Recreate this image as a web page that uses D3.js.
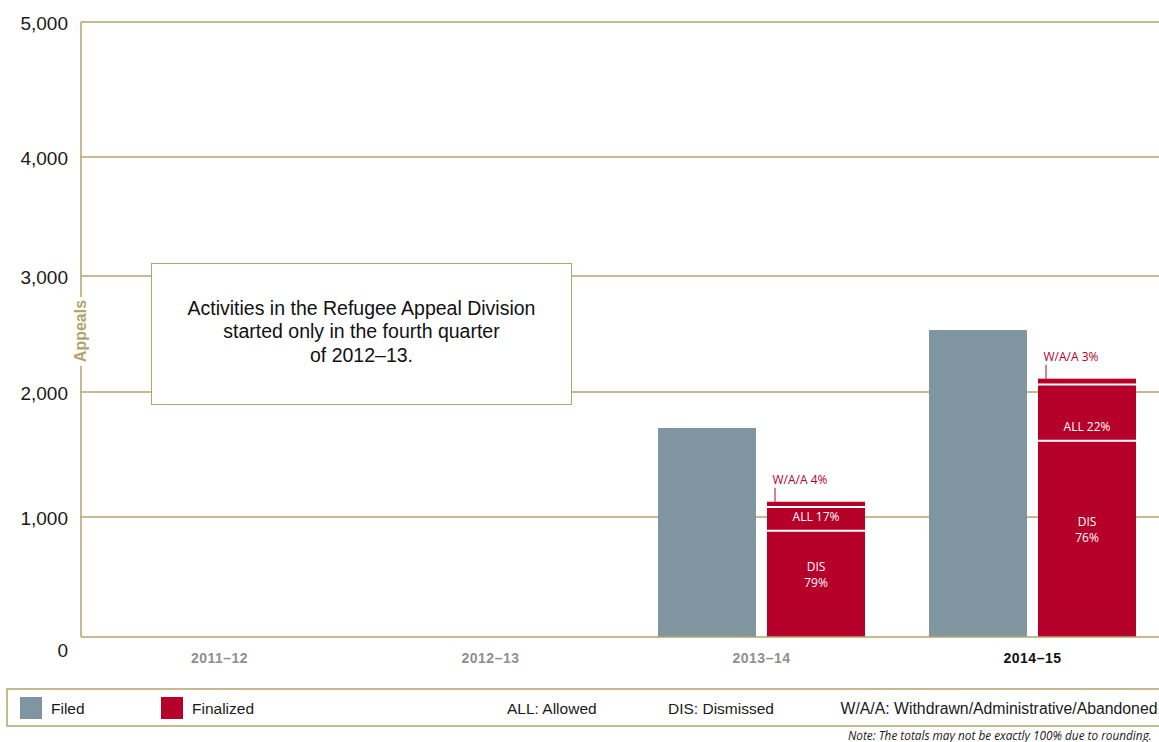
<!DOCTYPE html>
<html>
<head>
<meta charset="utf-8">
<script src="https://cdn.jsdelivr.net/npm/d3@7"></script>
<style>
  body { margin: 0; background: #fff; }
  svg { display: block; }
</style>
</head>
<body>
<svg id="chart" width="1159" height="742"></svg>
<script>
/* global d3 */

// data
const years = ['2011–12', '2012–13', '2013–14', '2014–15']
const filed = [0, 0, 1712, 2534]
const dismissed = [0, 0, 885, 1610]
const allowed = [0, 0, 195, 455]
const withdrawn = [0, 0, 42, 50]
const disPct = ['', '', '79%', '76%']
const allPct = ['', '', '17%', '22%']
const waaPct = ['', '', '4%', '3%']
const yTicks = [0, 1000, 2000, 3000, 4000, 5000]
const noteLines = ['Activities in the Refugee Appeal Division', 'started only in the fourth quarter', 'of 2012–13.']
const abbreviations = ['ALL: Allowed', 'DIS: Dismissed', 'W/A/A: Withdrawn/Administrative/Abandoned']

const olive = '#b3a46b'
const filedColor = '#7f96a0'
const finColor = '#b5002a'
const sans = '"Liberation Sans", Arial, sans-serif'
const myriad = '"Open Sans", "Noto Sans", sans-serif'

const svg = d3.select('#chart')
const left = 81
const right = 1159
const barW = 98
const gap = 11

// the original's gridlines are not evenly spaced, so the scale follows them
const y = d3.scaleLinear().domain(yTicks).range([637, 517, 392, 276, 157, 22])
const x = d3.scaleBand().domain(years).range([84, 1168])

// gridlines
svg.append('g').selectAll('line')
  .data(yTicks.filter(d => d > 0))
  .join('line')
  .attr('x1', left)
  .attr('x2', right)
  .attr('y1', d => y(d))
  .attr('y2', d => y(d))
  .attr('stroke', olive)
  .attr('stroke-width', 1.5)

// y tick labels
const yAxis = svg.append('g')
  .attr('transform', 'translate(' + left + ',0)')
  .call(d3.axisLeft(y).tickValues(yTicks).tickFormat(d3.format(',')).tickSize(0).tickPadding(13))
yAxis.select('.domain').remove()
yAxis.selectAll('text')
  .style('font-family', sans)
  .style('font-size', '19px')
  .attr('fill', '#1a1a1a')
  .attr('dy', d => d === 0 ? '1.0em' : '0.4em')

// rows for the stack
const rows = years.map((yr, i) => ({ year: yr, dis: dismissed[i], all: allowed[i], waa: withdrawn[i] }))
const stack = d3.stack().keys(['dis', 'all', 'waa'])(rows)

// filed bars
svg.append('g').selectAll('rect')
  .data(years.filter((yr, i) => filed[i] > 0))
  .join('rect')
  .attr('x', d => x(d) + x.bandwidth() / 2 - gap / 2 - barW)
  .attr('width', barW)
  .attr('y', d => y(filed[years.indexOf(d)]))
  .attr('height', d => y(0) - y(filed[years.indexOf(d)]))
  .attr('fill', filedColor)

// finalized stacked bars
const segs = svg.append('g')
stack.forEach(layer => {
  segs.selectAll('rect.s-' + layer.key)
    .data(layer.filter(d => d[1] > d[0]))
    .join('rect')
    .attr('class', 's-' + layer.key)
    .attr('x', d => x(d.data.year) + x.bandwidth() / 2 + gap / 2)
    .attr('width', barW)
    .attr('y', d => y(d[1]))
    .attr('height', d => y(d[0]) - y(d[1]))
    .attr('fill', finColor)
})

// white separators between segments
stack.slice(0, 2).forEach(layer => {
  segs.selectAll('line.sep-' + layer.key)
    .data(layer.filter(d => d[1] > d[0]))
    .join('line')
    .attr('class', 'sep-' + layer.key)
    .attr('x1', d => x(d.data.year) + x.bandwidth() / 2 + gap / 2)
    .attr('x2', d => x(d.data.year) + x.bandwidth() / 2 + gap / 2 + barW)
    .attr('y1', d => y(d[1]))
    .attr('y2', d => y(d[1]))
    .attr('stroke', '#fff')
    .attr('stroke-width', 2)
})

// segment labels
years.forEach((yr, i) => {
  if (!dismissed[i]) return
  const cx = x(yr) + x.bandwidth() / 2 + gap / 2 + barW / 2
  const bx = x(yr) + x.bandwidth() / 2 + gap / 2
  const disMid = (y(0) + y(dismissed[i])) / 2
  const lab = svg.append('g')
    .style('font-family', myriad)
    .style('font-size', '12px')
    .attr('text-anchor', 'middle')
    .attr('fill', '#fff')
  lab.append('text').attr('x', cx).attr('y', disMid - 13).text('DIS')
  lab.append('text').attr('x', cx).attr('y', disMid + 3).text(disPct[i])
  lab.append('text').attr('x', cx).attr('y', y(dismissed[i]) - 10).text('ALL ' + allPct[i])

  const top = y(dismissed[i] + allowed[i] + withdrawn[i])
  svg.append('line')
    .attr('x1', bx + 8)
    .attr('x2', bx + 8)
    .attr('y1', top - 14)
    .attr('y2', top)
    .attr('stroke', finColor)
    .attr('stroke-width', 1)
  svg.append('text')
    .attr('x', bx + 5.5)
    .attr('y', top - 18)
    .style('font-family', myriad)
    .style('font-size', '12px')
    .attr('fill', finColor)
    .text('W/A/A ' + waaPct[i])
})

// zero line on top of the bars, and the y axis line
svg.append('line')
  .attr('x1', left).attr('x2', right)
  .attr('y1', y(0)).attr('y2', y(0))
  .attr('stroke', olive).attr('stroke-width', 1.5)
svg.append('line')
  .attr('x1', left).attr('x2', left)
  .attr('y1', y(5000)).attr('y2', y(0))
  .attr('stroke', olive).attr('stroke-width', 1.5)

// y axis title sitting on the axis line
svg.append('rect')
  .attr('x', left - 8).attr('y', 297)
  .attr('width', 16).attr('height', 69)
  .attr('fill', '#fff')
svg.append('text')
  .attr('transform', 'translate(' + (left + 5) + ',331) rotate(-90)')
  .attr('text-anchor', 'middle')
  .style('font-family', sans)
  .style('font-size', '16px')
  .style('font-weight', 'bold')
  .attr('fill', olive)
  .text('Appeals')

// category labels
svg.append('g').selectAll('text')
  .data(years)
  .join('text')
  .attr('x', d => x(d) + x.bandwidth() / 2)
  .attr('y', 663)
  .attr('text-anchor', 'middle')
  .style('font-family', sans)
  .style('font-size', '14px')
  .style('font-weight', 'bold')
  .style('letter-spacing', '0.5px')
  .attr('fill', (d, i) => i === years.length - 1 ? '#111' : '#8f8f8f')
  .text(d => d)

// annotation box
svg.append('rect')
  .attr('x', 151.5).attr('y', 263.5)
  .attr('width', 420).attr('height', 141)
  .attr('fill', '#fff')
  .attr('stroke', olive)
  .attr('stroke-width', 1)
svg.append('text')
  .attr('text-anchor', 'middle')
  .style('font-family', sans)
  .style('font-size', '19.5px')
  .attr('fill', '#111')
  .selectAll('tspan')
  .data(noteLines)
  .join('tspan')
  .attr('x', 361.5)
  .attr('y', (d, i) => 315 + i * 23.4)
  .text(d => d)

// legend
const legend = svg.append('g')
legend.append('rect')
  .attr('x', 7).attr('y', 689)
  .attr('width', 1200).attr('height', 37)
  .attr('fill', 'none')
  .attr('stroke', olive)
  .attr('stroke-width', 1.5)
const keys = [{ label: 'Filed', color: filedColor, x: 20 }, { label: 'Finalized', color: finColor, x: 161 }]
keys.forEach(k => {
  legend.append('rect')
    .attr('x', k.x).attr('y', 697)
    .attr('width', 22).attr('height', 22)
    .attr('fill', k.color)
  legend.append('text')
    .attr('x', k.x + 31).attr('y', 714)
    .style('font-family', sans)
    .style('font-size', '15.5px')
    .attr('fill', '#1a1a1a')
    .text(k.label)
})
const abbrX = [507, 668, 840.5]
legend.selectAll('text.abbr')
  .data(abbreviations)
  .join('text')
  .attr('class', 'abbr')
  .attr('x', (d, i) => abbrX[i])
  .attr('y', 714)
  .style('font-family', sans)
  .style('font-size', (d, i) => i === 2 ? '15.8px' : '15.5px')
  .attr('fill', '#1a1a1a')
  .text(d => d)

svg.append('text')
  .attr('x', 848).attr('y', 740)
  .style('font-family', myriad)
  .style('font-size', '11.8px')
  .style('font-style', 'italic')
  .attr('fill', '#1a1a1a')
  .text('Note: The totals may not be exactly 100% due to rounding.')
</script>
</body>
</html>
